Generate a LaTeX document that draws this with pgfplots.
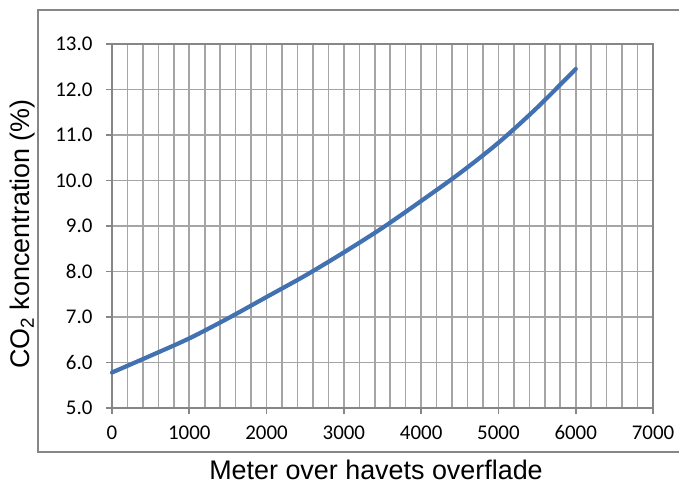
\documentclass[border=0pt]{standalone}
\usepackage{pgfplots}
\pgfplotsset{compat=1.18}
\usepackage{fontspec}
\setmainfont{Carlito}
\newfontfamily\labfont{Liberation Sans}
\definecolor{gridgray}{RGB}{165,165,165}
\definecolor{axgray}{RGB}{134,134,134}
\definecolor{curveblue}{RGB}{66,113,178}
\begin{document}
\begin{tikzpicture}[x=1bp,y=1bp]
\useasboundingbox (0,0) rectangle (679,486);
\fill[white] (0,0) rectangle (679,486);
\draw[color=axgray, line width=1.2bp] (38,34) rectangle (700,476);
\begin{axis}[
  at={(112bp,78bp)}, anchor=south west,
  scale only axis, width=541bp, height=364bp,
  xmin=0, xmax=7000, ymin=5, ymax=13,
  xtick={0,1000,...,7000},
  ytick={5,6,...,13},
  minor x tick num=4,
  grid=both,
  major grid style={color=gridgray, line width=1.6bp},
  minor grid style={color=gridgray, line width=1.6bp},
  axis line style={color=axgray, line width=1.6bp},
  tick align=outside,
  major tick length=6bp,
  minor tick length=0bp,
  tick style={color=axgray, line width=1.6bp},
  xtick pos=bottom, ytick pos=left,
  /pgf/number format/assume math mode=true,
  ticklabel style={font=\fontsize{21}{25}\selectfont, color=black},
  xticklabel style={yshift=-8bp},
  xticklabel={\pgfmathprintnumber[fixed,1000 sep={}]{\tick}},
  yticklabel={\pgfmathprintnumber[fixed,fixed zerofill,precision=1]{\tick}},
  yticklabel style={xshift=-10bp},
  xlabel={Meter over havets overflade},
  ylabel={CO\textsubscript{2} koncentration (\%)},
  every axis x label/.style={at={(axis description cs:0.488,-0.197)}, anchor=base, inner sep=0pt, font=\labfont\fontsize{27}{30}\selectfont},
  every axis y label/.style={at={(axis description cs:-0.166,0.478)}, anchor=center, inner sep=0pt, rotate=90, font=\labfont\fontsize{27}{30}\selectfont},
  clip=false,
]
\addplot[color=curveblue, line width=4.2bp, smooth, line cap=round] coordinates {
(0,5.78) (500,6.15) (1000,6.53) (1500,6.97) (2000,7.44) (2500,7.91) (3000,8.42) (3500,8.96) (4000,9.55) (4500,10.16) (5000,10.83) (5500,11.6) (6000,12.45)
};
\end{axis}
\end{tikzpicture}
\end{document}
